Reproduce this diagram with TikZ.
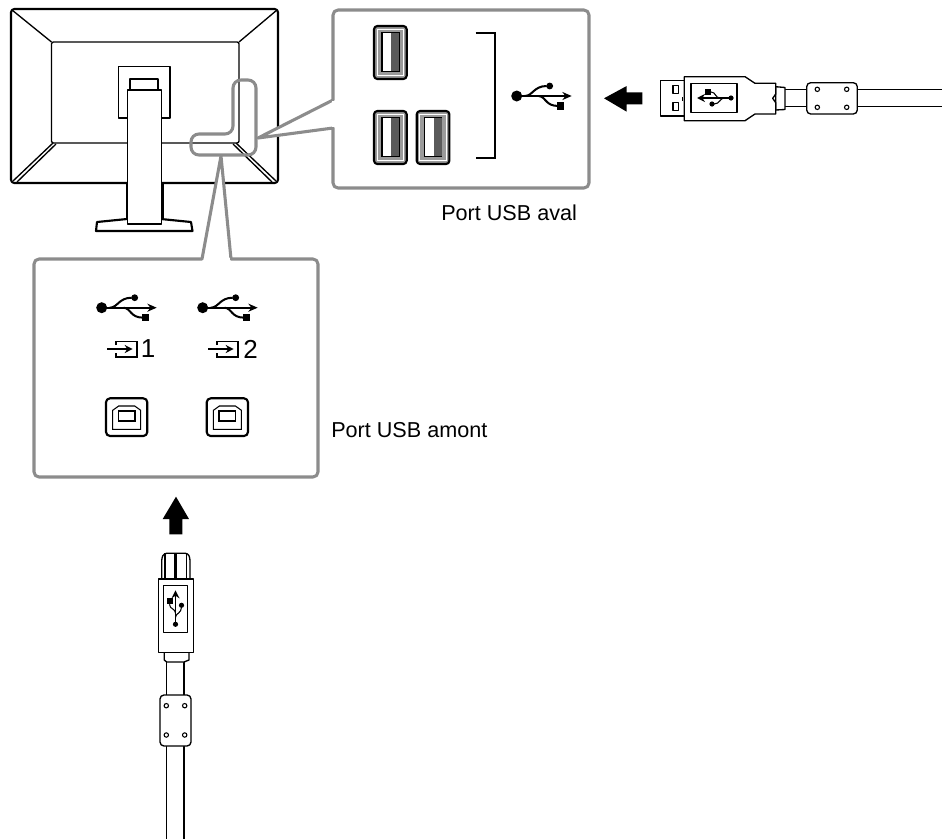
\documentclass[tikz,border=0pt]{standalone}
\usepackage{fontspec}
\setmainfont{Liberation Sans}
\usetikzlibrary{arrows.meta, positioning, calc}

\begin{document}
\begin{tikzpicture}[
    x=0.75pt, y=-0.75pt,
    line/.style={draw=black, line width=1pt, fill=white, line join=round},
    heavy/.style={draw=black, line width=1.6pt, fill=white, line join=round},
    callout/.style={draw=zoomgray, line width=2.3pt, line join=round, fill=white},
    blockarrow/.style={fill=black, draw=none},
    caption/.style={font=\fontsize{16.2pt}{18pt}\selectfont, anchor=west, inner sep=0pt},
    portnum/.style={font=\fontsize{19.5pt}{21pt}\selectfont, inner sep=0pt},
    usbtrident/.pic={
        \fill (0,0) circle (5.5);
        \draw[line width=1.5pt, -{Stealth[length=7pt,width=6pt]}] (0,0) -- (55,0);
        \draw[line width=1.5pt] (8,0) .. controls (16,0) and (17,-10) .. (30,-10);
        \fill (33,-10) circle (3.4);
        \draw[line width=1.5pt] (22,0) .. controls (30,1) and (28,10) .. (42,10);
        \fill (40,6.3) rectangle (47.5,13.7);
    },
    usbmini/.pic={
        \fill (0,0) circle (2.6);
        \draw[line width=0.9pt, -{Stealth[length=6pt,width=6pt]}] (0,0) -- (34,0);
        \draw[line width=0.8pt] (7,0) .. controls (11,0) and (11,-6) .. (17,-6);
        \fill (19,-6) circle (2.6);
        \draw[line width=0.8pt] (11,0) .. controls (16,0) and (15,6) .. (20,6);
        \fill (20,3) rectangle (26,9);
    },
    usbaport/.pic={
        \draw[heavy, fill=midgray, rounded corners=2.5] (0,0) rectangle (32.7,53);
        \draw[draw=white, line width=0.8pt] (3.2,3.2) rectangle (29.5,49.8);
        \draw[line width=0.8pt, fill=white] (8,6.7) rectangle (25,45.7);
        \fill[darkport] (17,7) rectangle (25,45.4);
    },
    typebport/.pic={
        \draw[heavy, rounded corners=3] (0,0) rectangle (41.3,37.7);
        \draw[line width=0.8pt] (6.7,31) -- (6.7,12) -- (12.7,7.7) -- (28.7,7.7) -- (34.7,12) -- (34.7,31) -- cycle;
        \draw[line width=0.8pt] (12.3,12.7) rectangle (29,22.7);
    },
    inputmark/.pic={
        \draw[line width=1pt, -{Stealth[length=6pt,width=6pt]}] (0,0) -- (25.7,0);
        \draw[line width=1pt] (9,-4) -- (9,-7.3) -- (30,-7.3) -- (30,8) -- (9,8) -- (9,4);
    },
    bolt/.pic={
        \draw[line width=0.8pt, fill=white] (-1.8,0) circle (2.2);
    }
]
\definecolor{zoomgray}{HTML}{8C8C8C}
\definecolor{midgray}{HTML}{9A9A9A}
\definecolor{darkport}{HTML}{5A5A5A}
\useasboundingbox (0,0) rectangle (942,839);

% Monitor
\draw[heavy, rounded corners=2.5] (11,9) rectangle (278,183);
\draw[line, rounded corners=1.5] (51.5,42) rectangle (239,143);
\draw[line] (12,10) -- (51.5,42);
\draw[line] (277,10) -- (239,42);
\draw[line] (53,143) -- (13,181);
\draw[line] (56,144) -- (17,182);
\draw[line] (236,143) -- (276,181);
\draw[line] (233,144) -- (272,182);
\draw[line] (118.5,66.5) rectangle (170,118);
\draw[line] (130,79) rectangle (158,90);
\draw[heavy] (97,222) -- (127,219) -- (161,219) -- (191,222) -- (192.5,231) -- (96,231) -- cycle;
\draw[line] (127.5,90) rectangle (161.5,224);
\draw[heavy] (127,183) -- (127,219);
\draw[heavy] (163,183) -- (163,219);

% Callouts
\draw[callout] (333,100) -- (333,15) arc (180:270:5) -- (584,10) arc (-90:0:5) -- (589,183) arc (0:90:5) -- (338,188) arc (90:180:5) -- (333,128) -- (258,138) -- cycle;
\fill[white] (331.5,101) rectangle (340,127);
\draw[callout] (221,156) -- (231,259) -- (313,259) arc (-90:0:5) -- (318,472) arc (0:90:5) -- (39,477) arc (90:180:5) -- (34,264) arc (180:270:5) -- (202,259) -- cycle;
\fill[white] (204,257.5) rectangle (229.5,262);
\draw[draw=zoomgray, line width=2.3pt, rounded corners=6] (233,134) -- (233,80) -- (256,80) -- (256,155) -- (191,155) -- (191,134) -- cycle;

% Ports
\pic at (374,26) {usbaport};
\pic at (374,111) {usbaport};
\pic at (416.7,111) {usbaport};
\draw[line width=1.3pt] (475.7,33.3) -- (495,33.3) -- (495,158.3) -- (475.7,158.3);
\pic at (516.7,96) {usbtrident};
\pic at (101.7,307.7) {usbtrident};
\pic at (202.7,307.7) {usbtrident};
\pic at (107,349) {inputmark};
\pic at (208,349) {inputmark};
\node[portnum] (numone) at (148,349) {1};
\node[portnum] (numtwo) at (250.7,349) {2};
\pic at (106,398.3) {typebport};
\pic at (206.7,398.3) {typebport};

% Labels
\node[caption] (downport) at (441,213) {Port USB aval};
\node[caption] (upport) at (331,430) {Port USB amont};

% Arrows
\fill[blockarrow] (604,98.3) -- (626.7,86) -- (626.7,92.3) -- (642.3,92.3) -- (642.3,104.3) -- (626.7,104.3) -- (626.7,111.7) -- cycle;
\fill[blockarrow] (176,496.7) -- (189,519) -- (182.3,519) -- (182.3,534.3) -- (169.3,534.3) -- (169.3,519) -- (162.7,519) -- cycle;

% Right plug
\draw[line] (785,89.3) -- (942,89.3);
\draw[line] (785,106.7) -- (942,106.7);
\draw[line] (660.7,80.7) rectangle (684.3,116);
\draw[line] (673,85.3) rectangle (678.7,93.3);
\draw[line] (673,102.3) rectangle (678.7,110.3);
\fill (681.7,96.5) rectangle (683,100.5);
\draw[line] (775.7,86.7) -- (785,87.5) -- (785,109.5) -- (775.7,110) -- cycle;
\draw[line] (684.3,76.7) -- (745,76.7) -- (755,83.3) -- (775.7,83.3) -- (775.7,94) -- (772.7,98.3) -- (775.7,102.7) -- (775.7,114) -- (755,114) -- (745,120.7) -- (684.3,120.7) -- cycle;
\draw[line] (691,83.3) rectangle (737,112.7);
\pic[rotate=180] at (731,98) {usbmini};
\draw[line, rounded corners=3] (806.7,82.7) rectangle (857.3,114);
\foreach \px in {819.1,848.5} \foreach \py in {89.3,107.3}
    \pic at (\px,\py) {bolt};

% Lower plug
\draw[line] (166.7,662) -- (166.7,839);
\draw[line] (184,662) -- (184,839);
\draw[line, rounded corners=2] (161.7,579) -- (161.7,558) -- (164,553.3) -- (188,553.3) -- (190,558) -- (190,579);
\draw[line] (165,553.3) -- (165,579);
\draw[line] (186.7,553.3) -- (186.7,579);
\fill (174.3,553.3) rectangle (177.3,579);
\draw[line] (164.3,652) -- (164.3,660) -- (166.7,662) -- (184,662) -- (189,660) -- (189,652);
\draw[line] (158.3,579) rectangle (193.3,652.3);
\draw[line] (163.7,585.7) rectangle (187.7,632.3);
\pic[rotate=90, yscale=-1] at (175.5,624.3) {usbmini};
\draw[line, rounded corners=3] (160,695) rectangle (191,746);
\foreach \px in {168.1,186.5} \foreach \py in {705.7,735}
    \pic at (\px,\py) {bolt};

\end{tikzpicture}
\end{document}
